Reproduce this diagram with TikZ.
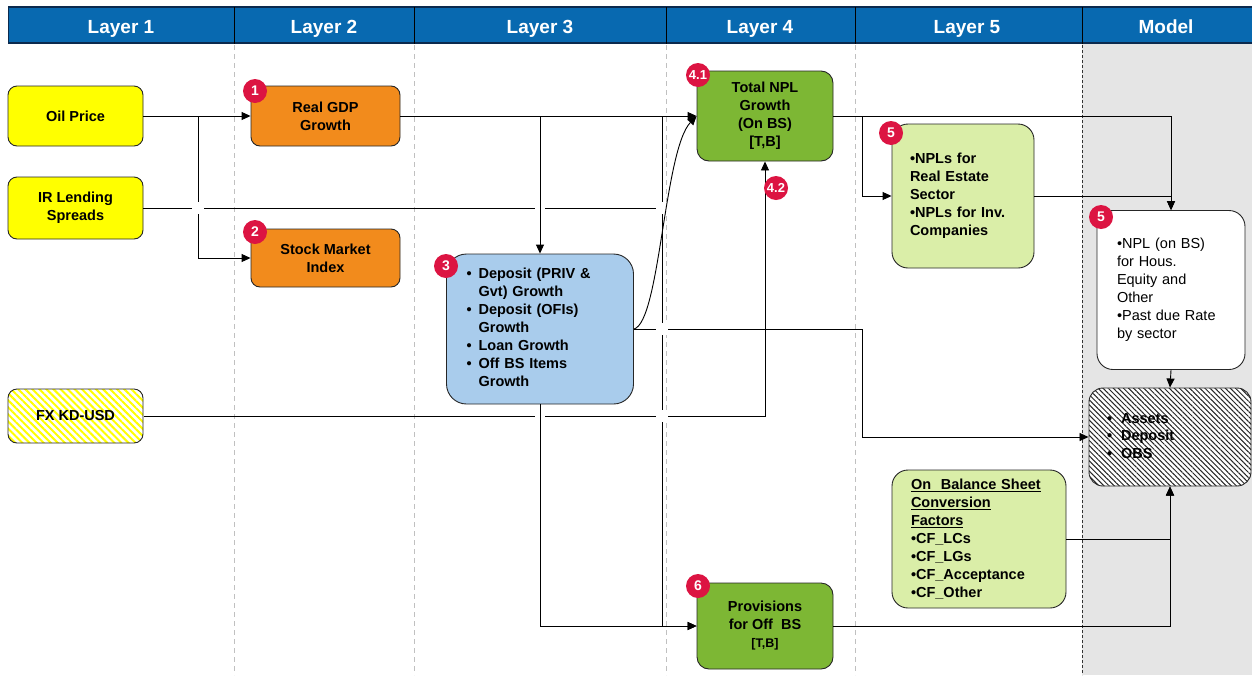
\documentclass[tikz,border=0pt]{standalone}
\usepackage{fontspec}
\setmainfont{Liberation Sans}
\usetikzlibrary{arrows.meta,patterns.meta}

\definecolor{headblue}{HTML}{0869B0}
\definecolor{headline}{HTML}{0B2A4E}
\definecolor{oilyellow}{HTML}{FFFF00}
\definecolor{gdporange}{HTML}{F28B1C}
\definecolor{depblue}{HTML}{A9CCEC}
\definecolor{nplgreen}{HTML}{7DB734}
\definecolor{palegreen}{HTML}{DAEEA8}
\definecolor{modelgray}{HTML}{E5E5E5}
\definecolor{badgered}{HTML}{DC1442}
\definecolor{gridgray}{HTML}{C0C0C0}

\tikzset{
  box/.style={draw=black!85, line width=0.9pt, rounded corners=#1,
    font=\fontsize{14.5}{18}\selectfont\bfseries, align=center, inner sep=2pt},
  box/.default=9pt,
  badge/.style={circle, fill=badgered, text=white,
    font=\fontsize{14}{14}\selectfont\bfseries, minimum size=24pt, inner sep=0pt},
  head/.style={text=white, anchor=base, font=\fontsize{19}{20}\selectfont\bfseries},
  link/.style={line width=0.9pt, -{Triangle[length=9pt,width=8pt]}},
  plain/.style={line width=0.9pt},
  jump/.style={fill=white},
}

\begin{document}
\begin{tikzpicture}[x=1pt, y=-1pt]
\useasboundingbox (0,0) rectangle (1252,675);

% Model column
\fill[modelgray] (1082,44) rectangle (1252,675);

% Header band
\fill[headblue] (8,7) rectangle (1252,44);
\draw[headline, line width=1.5pt] (8,7) -- (1252,7);
\draw[headline, line width=2.5pt] (8,43) -- (1252,43);
\draw[headline, line width=1pt] (8,7) -- (8,44);
\foreach \x in {234,414,666,855,1082}
  \draw[black, line width=0.8pt] (\x,7) -- (\x,44);
\foreach \x/\t [count=\i] in {121/Layer 1, 324/Layer 2, 540/Layer 3, 760/Layer 4, 967/Layer 5, 1166/Model}
  \node[head] (head\i) at (\x,33) {\t};

% Column guides
\foreach \x in {234,414,666,855}
  \draw[gridgray, dash pattern=on 5pt off 4pt, line width=0.8pt] (\x,45) -- (\x,675);
\draw[black!80, dash pattern=on 3pt off 2pt, line width=0.8pt] (1082,45) -- (1082,675);

% Layer 1
\node[box, fill=oilyellow, minimum width=135pt, minimum height=60pt] (oil) at (75.5,116) {Oil Price};
\node[box, fill=oilyellow, minimum width=135pt, minimum height=62pt] (ir) at (75.5,208) {IR Lending\\Spreads};
\node[box, preaction={fill=white}, pattern={Lines[angle=-45,distance=5pt,line width=2pt]},
  pattern color=oilyellow, minimum width=135pt, minimum height=54pt] (fx) at (75.5,416) {FX KD-USD};

% Layer 2
\node[box, fill=gdporange, minimum width=149pt, minimum height=60pt] (gdp) at (325.5,116) {Real GDP\\Growth};
\node[box, fill=gdporange, minimum width=149pt, minimum height=58pt] (stock) at (325.5,258) {Stock Market\\Index};

% Layer 3
\node[box=20pt, fill=depblue, align=left, text width=147pt, inner xsep=20pt, minimum height=150pt] (dep) at (540,329)
  {\begin{tabular}{@{}l@{\hspace{7pt}}l@{}}
   \textbullet & Deposit (PRIV \&\\
               & Gvt) Growth\\
   \textbullet & Deposit (OFIs)\\
               & Growth\\
   \textbullet & Loan Growth\\
   \textbullet & Off BS Items\\
               & Growth
   \end{tabular}};

% Layer 4
\node[box=12pt, fill=nplgreen, minimum width=136pt, minimum height=90pt] (npl) at (765,116)
  {Total NPL\\Growth\\(On BS)\\{[T,B]}};
\node[box=12pt, fill=nplgreen, minimum width=136pt, minimum height=86pt] (prov) at (765,626)
  {Provisions\\for Off\ \ BS\\{\fontsize{12.5}{15}\selectfont[T,B]}};

% Layer 5
\node[box=16pt, fill=palegreen, align=left, text width=106pt, inner xsep=18pt, minimum height=144pt] (npls) at (963,196)
  {\textbullet NPLs for\\Real Estate\\Sector\\\textbullet NPLs for Inv.\\Companies};
\node[box=16pt, fill=palegreen, align=left, text width=136pt, inner xsep=19pt, minimum height=138pt] (cf) at (979,539)
  {\underline{On\ \ Balance Sheet}\\\underline{Conversion}\\\underline{Factors}\\\textbullet CF\_LCs\\\textbullet CF\_LGs\\\textbullet CF\_Acceptance\\\textbullet CF\_Other};

% Model
\node[box=16pt, fill=white, font=\fontsize{14.5}{18}\selectfont, align=left, text width=108pt, inner xsep=20pt,
  minimum height=159pt] (hous) at (1171,290)
  {\textbullet NPL (on BS)\\for Hous.\\Equity and\\Other\\\textbullet Past due Rate\\by sector};
\node[box=14pt, preaction={fill=white}, pattern={Lines[angle=-45,distance=3.6pt,line width=1pt]},
  pattern color=black!85, align=left, text width=126pt, inner xsep=18pt, minimum height=98pt] (assets) at (1170,437)
  {\fontsize{14.5}{17.5}\selectfont
   \begin{tabular}{@{}l@{\hspace{9pt}}l@{}}
   \textbullet & Assets\\
   \textbullet & Deposit\\
   \textbullet & OBS
   \end{tabular}};

% Junctions
\coordinate (j1) at (198,116);
\coordinate (j2) at (540,116);
\coordinate (j3) at (662,116);
\coordinate (j4) at (862,116);
\coordinate (j5) at (862,329);
\coordinate (j6) at (662,208);

% Connectors
\draw[link] (oil.east) -- (gdp.west);
\draw[link] (j1) |- (stock.west);
\draw[plain] (ir.east) -- (j6);
\fill[jump] (535,202) rectangle (545,214); % line jump
\draw[link] (gdp.east) -- (npl.west);
\draw[link] (j2) -- (dep.north);
\draw[link] (j3) |- (prov.west);
\draw[link] (dep.east) -- (j5) |- (assets.west);
\draw[link] (fx.east) -| (npl.south);
\fill[jump] (535,410) rectangle (545,422); % line jump
\draw[link] (dep.south) |- (prov.west);
\draw[link] (npl.east) -| (hous.north);
\draw[link] (j4) |- (npls.west);
\draw[link] (npls.east) -| (hous.north);
\draw[link] (hous.south) -- (assets.north);
\draw[link] (cf.east) -| (assets.south);
\draw[link] (prov.east) -| (assets.south);

% Line jumps
\foreach \x/\y in {198/208, 662/208, 662/329, 662/416}
  \fill[jump] (\x-6,\y-6) rectangle (\x+6,\y+6);

\draw[link] (dep.east) .. controls (660,322) and (664,150) .. (npl.west);

% Step badges
\node[badge] (b1) at (255,91) {1};
\node[badge] (b2) at (255,232) {2};
\node[badge] (b3) at (446,266) {3};
\node[badge, font=\fontsize{13}{13}\selectfont\bfseries] (b41) at (698,75) {4.1};
\node[badge, font=\fontsize{13}{13}\selectfont\bfseries] (b42) at (776,188) {4.2};
\node[badge] (b5a) at (891,133) {5};
\node[badge] (b5b) at (1101,217) {5};
\node[badge] (b6) at (698,586) {6};

\end{tikzpicture}
\end{document}
